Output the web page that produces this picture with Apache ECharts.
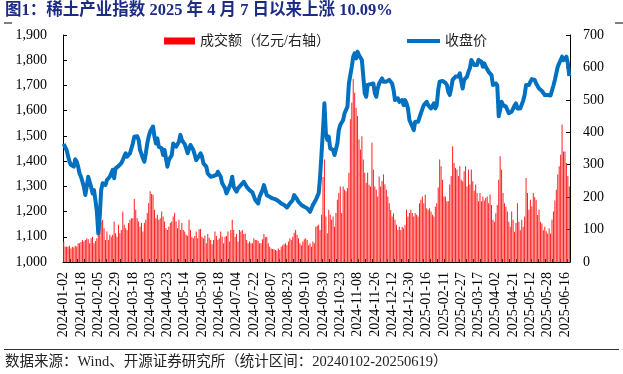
<!DOCTYPE html>
<html>
<head>
<meta charset="utf-8">
<script src="https://cdn.jsdelivr.net/npm/echarts@6/dist/echarts.min.js"></script>
<style>
html,body{margin:0;padding:0;background:#fff;}
#chart{width:623px;height:374px;}
</style>
</head>
<body>
<div id="chart"></div>
<script>
// ---- data ----
const holidays = [
  '2024-01-01','2024-02-09','2024-02-12','2024-02-13','2024-02-14','2024-02-15','2024-02-16',
  '2024-04-04','2024-04-05','2024-05-01','2024-05-02','2024-05-03','2024-06-10',
  '2024-09-16','2024-09-17','2024-10-01','2024-10-02','2024-10-03','2024-10-04','2024-10-07',
  '2025-01-01','2025-01-28','2025-01-29','2025-01-30','2025-01-31','2025-02-03','2025-02-04',
  '2025-04-04','2025-05-01','2025-05-02','2025-05-05','2025-06-02'
];
const startDate = '2024-01-02';
const endDate = '2025-06-19';

function tradingDays(s, e, hol) {
  const out = [];
  const set = new Set(hol);
  let d = new Date(s + 'T00:00:00Z');
  const end = new Date(e + 'T00:00:00Z');
  while (d <= end) {
    const wd = d.getUTCDay();
    const str = d.toISOString().slice(0, 10);
    if (wd !== 0 && wd !== 6 && !set.has(str)) out.push(str);
    d = new Date(d.getTime() + 86400000);
  }
  return out;
}
const categories = tradingDays(startDate, endDate, holidays);

// 收盘价 (left axis)
const closePrice = [
1468,1455,1444,1420,1398,1385,1378,1378,1407,1398,
1378,1351,1338,1318,1298,1266,1300,1338,1338,1298,
1272,1285,1246,1200,1114,1180,1285,1312,1308,1305,
1325,1330,1338,1352,1365,1332,1371,1378,1380,1385,
1392,1404,1418,1431,1418,1425,1431,1450,1470,1497,
1498,1499,1484,1444,1428,1411,1398,1431,1470,1497,
1517,1527,1537,1497,1470,1490,1457,1455,1451,1424,
1444,1411,1378,1404,1414,1424,1470,1463,1457,1467,
1477,1504,1484,1475,1467,1451,1431,1448,1464,1470,
1444,1424,1404,1411,1421,1431,1418,1391,1385,1378,
1351,1345,1338,1345,1341,1338,1345,1358,1348,1338,
1312,1302,1292,1272,1285,1298,1312,1338,1298,1288,
1279,1292,1298,1305,1298,1318,1308,1298,1292,1285,
1279,1276,1272,1246,1239,1232,1259,1272,1285,1305,
1285,1265,1262,1259,1252,1252,1252,1249,1246,1242,
1239,1232,1229,1226,1219,1216,1213,1232,1239,1246,
1265,1259,1249,1239,1232,1226,1219,1219,1219,1213,
1206,1199,1206,1226,1219,1246,1259,1272,1338,1431,
1523,1629,1510,1484,1497,1451,1448,1444,1424,1447,
1470,1523,1543,1537,1563,1590,1583,1616,1708,1702,
1774,1814,1827,1807,1834,1820,1827,1801,1735,1669,
1655,1702,1708,1705,1702,1708,1669,1655,1688,1708,
1718,1728,1715,1722,1715,1708,1722,1715,1708,1682,
1642,1635,1649,1635,1638,1642,1622,1642,1629,1609,
1563,1550,1537,1523,1556,1563,1556,1556,1590,1606,
1622,1629,1635,1622,1629,1609,1619,1629,1609,1622,
1682,1715,1722,1718,1715,1710,1702,1675,1662,1688,
1722,1728,1735,1741,1735,1748,1715,1688,1722,1728,
1735,1754,1768,1801,1807,1781,1781,1781,1801,1807,
1794,1774,1788,1774,1764,1754,1748,1741,1702,1705,
1708,1700,1578,1603,1635,1622,1622,1616,1603,1590,
1583,1596,1603,1620,1629,1609,1603,1609,1616,1640,
1662,1702,1695,1702,1715,1725,1728,1722,1708,1702,
1688,1682,1678,1672,1662,1669,1662,1655,1660,1680,
1700,1722,1728,1774,1788,1800,1814,1800,1794,1814,
1788,1737
];

// 成交额 (亿元, right axis)
const turnover = [
63,47,48,47,50,42,47,45,50,47,
58,58,62,68,63,68,73,70,58,73,
78,58,65,73,89,109,125,130,104,68,
94,68,84,78,84,125,89,78,115,89,
99,156,115,104,99,120,130,135,135,194,
161,135,125,109,120,94,120,130,151,182,
218,210,207,161,135,146,130,135,156,140,
125,104,99,109,120,125,140,151,125,104,
130,99,120,99,94,84,81,130,99,78,
73,80,94,73,101,102,78,73,81,58,
86,75,68,55,68,94,80,68,73,94,
78,58,78,80,94,63,99,130,99,78,
86,63,99,94,99,86,88,68,58,63,
58,58,73,68,68,65,58,58,70,86,
76,78,58,47,42,40,39,37,35,42,
37,47,52,55,58,52,63,73,68,78,
90,99,84,73,58,52,63,70,73,68,
52,58,47,63,58,109,112,115,99,146,
262,316,140,89,161,146,130,140,109,151,
192,213,233,151,233,223,218,228,275,440,
491,564,522,476,450,378,347,388,316,275,
244,275,238,233,368,285,233,223,202,264,
233,250,270,240,223,202,181,160,140,150,
130,115,99,109,99,109,104,115,161,140,
151,161,151,140,151,146,140,181,192,202,
181,207,166,161,166,156,146,140,170,181,
230,316,295,254,202,202,187,187,239,265,
357,305,290,285,265,295,254,249,280,295,
233,285,239,285,249,220,239,213,187,213,
187,202,190,197,202,181,208,176,130,124,
150,176,254,326,285,213,181,170,156,124,
109,156,130,93,120,181,124,98,130,109,
140,259,213,161,192,171,213,200,192,145,
161,124,119,98,109,95,88,104,88,130,
156,190,223,270,295,331,424,341,341,305,
265,233
];

const leftTicks = {min: 1000, max: 1900, interval: 100};
const rightTicks = {min: 0, max: 700, interval: 100};
const seriesNames = ['成交额（亿元/右轴）', '收盘价'];
const titleText = '图1：稀土产业指数 2025 年 4 月 7 日以来上涨 10.09%';
const sourceText = '数据来源：Wind、开源证券研究所（统计区间：20240102-20250619）';

// ---- chart ----
const serif = "'Liberation Serif','Times New Roman','Noto Sans CJK SC'";
const cjk = "'Liberation Serif','Noto Sans CJK SC'";
const chart = echarts.init(document.getElementById('chart'), null, {renderer: 'canvas'});

function thousands(v) {
  return String(v).replace(/\B(?=(\d{3})+(?!\d))/g, ',');
}

const option = {
  animation: false,
  backgroundColor: '#ffffff',
  grid: {left: 63, right: 53, top: 35, bottom: 112, containLabel: false},
  legend: [
    {
      data: [seriesNames[0]], left: 164, top: 34, padding: 0,
      icon: 'rect', itemWidth: 31, itemHeight: 7, itemGap: 5,
      itemStyle: {color: '#FF0000'},
      textStyle: {fontSize: 14, color: '#222', fontFamily: cjk}
    },
    {
      data: [seriesNames[1]], left: 407, top: 34, padding: 0,
      icon: 'rect', itemWidth: 33, itemHeight: 4,
      textStyle: {fontSize: 14, color: '#222', fontFamily: cjk}
    }
  ],
  xAxis: {
    type: 'category',
    data: categories,
    boundaryGap: true,
    axisLine: {lineStyle: {color: '#000', width: 1}},
    axisTick: {show: true, inside: true, interval: 4, length: 3, lineStyle: {color: '#000'}},
    axisLabel: {interval: 11, rotate: 90, fontSize: 14, color: '#000', margin: 10, fontFamily: serif},
    splitLine: {show: false}
  },
  yAxis: [
    {
      type: 'value', position: 'left',
      min: leftTicks.min, max: leftTicks.max, interval: leftTicks.interval,
      axisLine: {show: true, lineStyle: {color: '#000'}},
      axisTick: {show: true, inside: true, length: 4, lineStyle: {color: '#000'}},
      splitLine: {show: false},
      axisLabel: {formatter: thousands, fontSize: 14, color: '#000', margin: 16, fontFamily: serif}
    },
    {
      type: 'value', position: 'right',
      min: rightTicks.min, max: rightTicks.max, interval: rightTicks.interval,
      axisLine: {show: true, lineStyle: {color: '#000'}},
      axisTick: {show: true, inside: true, length: 4, lineStyle: {color: '#000'}},
      splitLine: {show: false},
      axisLabel: {fontSize: 14, color: '#000', margin: 13, fontFamily: serif}
    }
  ],
  series: [
    {
      name: seriesNames[0], type: 'bar', yAxisIndex: 1, data: turnover,
      barWidth: '48%',
      itemStyle: {color: '#FF2020'},
      z: 2
    },
    {
      name: seriesNames[1], type: 'line', yAxisIndex: 0, data: closePrice,
      symbol: 'none', smooth: false,
      lineStyle: {color: '#0070C0', width: 4, join: 'round'},
      itemStyle: {color: '#0070C0'},
      z: 3
    }
  ],
  graphic: [
    {
      type: 'text', left: 5, top: 2,
      style: {text: titleText, fontSize: 16.5, fontWeight: 'bold', fontFamily: cjk, fill: '#1C2B84'}
    },
    {type: 'line', shape: {x1: 4, y1: 23, x2: 12, y2: 23}, style: {stroke: '#000', lineWidth: 1}},
    {type: 'line', shape: {x1: 615, y1: 23, x2: 623, y2: 23}, style: {stroke: '#000', lineWidth: 1}},
    {type: 'line', shape: {x1: 4, y1: 349.5, x2: 619, y2: 349.5}, style: {stroke: '#333', lineWidth: 1}},
    {
      type: 'text', left: 5, top: 355,
      style: {text: sourceText, fontSize: 14.5, fontFamily: cjk, fill: '#222'}
    }
  ]
};
chart.setOption(option);
</script>
</body>
</html>
